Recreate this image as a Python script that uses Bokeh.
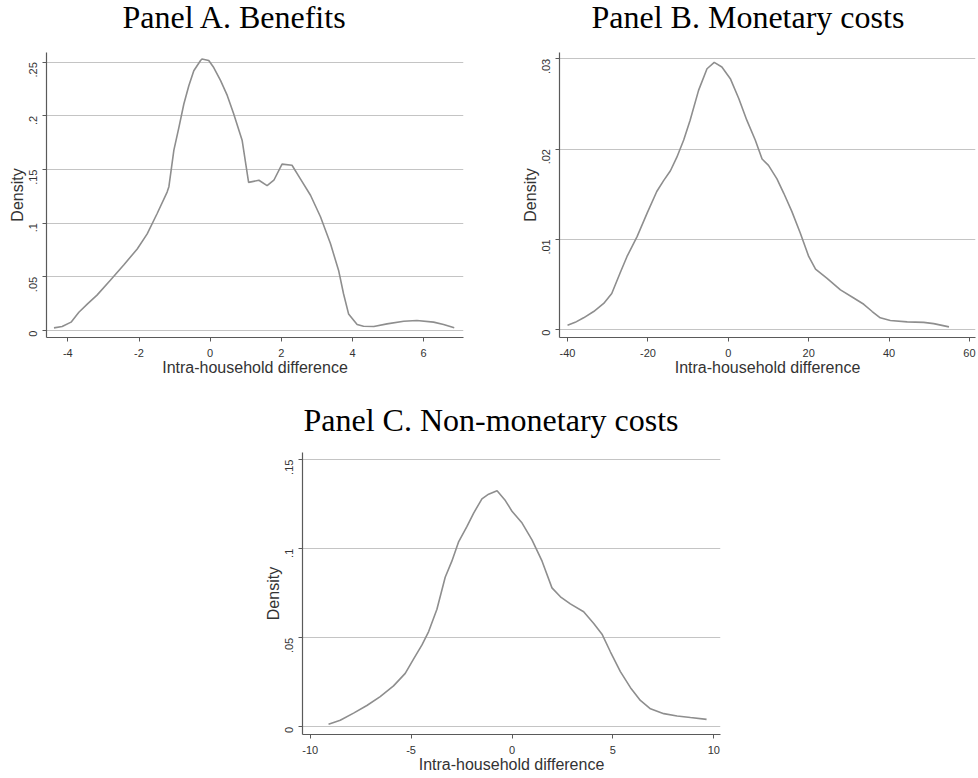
import math
from bokeh.plotting import figure
from bokeh.layouts import row, column
from bokeh.models import FixedTicker, Range1d, Title
from bokeh.embed import file_html
from bokeh.resources import INLINE

# ---------------- data ----------------
# Panel A. Benefits
a_x = [-4.39, -4.16, -3.91, -3.69, -3.44, -3.18, -2.80, -2.43, -2.05, -1.77, -1.49, -1.21, -1.16,
       -1.02, -0.88, -0.74, -0.60, -0.46, -0.27, -0.23, -0.04, 0.10, 0.29, 0.48, 0.66, 0.90, 1.08,
       1.37, 1.60, 1.79, 2.02, 2.30, 2.54, 2.82, 3.10, 3.38, 3.61, 3.75, 3.89, 4.13, 4.31, 4.60,
       4.97, 5.44, 5.81, 6.28, 6.56, 6.86]
a_y = [0.0025, 0.0037, 0.0078, 0.017, 0.025, 0.033, 0.047, 0.061, 0.076, 0.090, 0.109, 0.129, 0.134,
       0.168, 0.189, 0.211, 0.228, 0.242, 0.2516, 0.253, 0.2516, 0.245, 0.233, 0.219, 0.202, 0.177, 0.138,
       0.140, 0.135, 0.140, 0.155, 0.154, 0.141, 0.126, 0.106, 0.081, 0.056, 0.034, 0.0155, 0.0056, 0.004, 0.0037,
       0.0062, 0.0087, 0.0093, 0.0078, 0.0056, 0.0025]
a_xticks = [-4, -2, 0, 2, 4, 6]
a_xlabels = ["-4", "-2", "0", "2", "4", "6"]
a_yticks = [0, 0.05, 0.1, 0.15, 0.2, 0.25]
a_ylabels = ["0", ".05", ".1", ".15", ".2", ".25"]

# Panel B. Monetary costs
b_x = [-40.0, -38.1, -36.0, -33.5, -31.0, -29.0, -26.9, -25.2, -22.7, -20.2, -17.8, -16.1, -14.4,
       -12.8, -11.1, -9.5, -7.4, -5.3, -3.5, -1.6, 0.5, 2.6, 4.6, 6.7, 8.4, 10.0, 12.1, 13.8, 15.8,
       17.9, 20.0, 21.7, 24.5, 27.9, 31.2, 33.7, 35.8, 37.8, 40.3, 44.5, 48.6, 51.1, 54.9]
b_y = [0.00048, 0.0008, 0.0013, 0.0020, 0.0029, 0.0040, 0.0063, 0.0081, 0.0103, 0.0129, 0.0153, 0.0165, 0.0176,
       0.0191, 0.0210, 0.0232, 0.0265, 0.0289, 0.0296, 0.0291, 0.0278, 0.0256, 0.0232, 0.0210, 0.0189, 0.0182,
       0.0167, 0.0151, 0.0131, 0.0107, 0.0081, 0.0067, 0.0057, 0.0044, 0.0035, 0.0028, 0.0020, 0.0013, 0.0010,
       0.00085, 0.0008, 0.00066, 0.0003]
b_xticks = [-40, -20, 0, 20, 40, 60]
b_xlabels = ["-40", "-20", "0", "20", "40", "60"]
b_yticks = [0, 0.01, 0.02, 0.03]
b_ylabels = ["0", ".01", ".02", ".03"]

# Panel C. Non-monetary costs
c_x = [-9.09, -8.51, -7.85, -7.19, -6.53, -5.87, -5.29, -4.88, -4.46, -4.13, -3.72, -3.31, -2.98,
       -2.64, -2.23, -1.90, -1.49, -1.16, -0.74, -0.33, 0.0, 0.50, 0.99, 1.49, 1.98, 2.40, 2.89, 3.55,
       4.05, 4.46, 4.88, 5.37, 5.87, 6.36, 6.86, 7.52, 8.18, 8.84, 9.64]
c_y = [0.0015, 0.0037, 0.0077, 0.012, 0.017, 0.023, 0.030, 0.038, 0.046, 0.0535, 0.066, 0.084, 0.093,
       0.104, 0.1125, 0.120, 0.128, 0.1306, 0.1325, 0.127, 0.121, 0.1144, 0.105, 0.093, 0.078, 0.073, 0.069,
       0.0646, 0.058, 0.052, 0.042, 0.031, 0.022, 0.0148, 0.0101, 0.0074, 0.0061, 0.0052, 0.0042]
c_xticks = [-10, -5, 0, 5, 10]
c_xlabels = ["-10", "-5", "0", "5", "10"]
c_yticks = [0, 0.05, 0.1, 0.15]
c_ylabels = ["0", ".05", ".1", ".15"]

titles = ["Panel A. Benefits", "Panel B. Monetary costs", "Panel C. Non-monetary costs"]
x_label = "Intra-household difference"
y_label = "Density"

LINE = "#8e8e8e"
GRID = "#c4c4c4"
AXIS = "#5a5a5a"
TEXT = "#333333"


def make_panel(title, xs, ys, xticks, xlabels, yticks, ylabels, xr, yr, width, height,
               bl, br, bt, bb, title_offset, gap, title_standoff):
    p = figure(width=width, height=height, output_backend="svg", toolbar_location=None,
               x_range=Range1d(*xr), y_range=Range1d(*yr),
               min_border_left=bl, min_border_right=br, min_border_top=bt, min_border_bottom=bb)
    p.outline_line_color = None
    p.background_fill_color = "white"
    p.border_fill_color = "white"

    # spacer between the frame and the panel title, then the title itself
    p.add_layout(Title(text=" ", text_font_size="1px", standoff=gap), "above")
    p.add_layout(Title(text=title, text_font="Liberation Serif", text_font_size="32px",
                       text_font_style="normal", text_color="black", align="left",
                       offset=title_offset, standoff=title_standoff), "above")

    p.xgrid.visible = False
    p.ygrid.ticker = FixedTicker(ticks=yticks)
    p.ygrid.grid_line_color = GRID
    p.ygrid.grid_line_width = 1.2

    p.line(xs, ys, line_color=LINE, line_width=1.6)

    for ax in (p.xaxis[0], p.yaxis[0]):
        ax.axis_line_color = AXIS
        ax.axis_line_width = 1.2
        ax.major_tick_line_color = AXIS
        ax.major_tick_out = 4
        ax.major_tick_in = 0
        ax.minor_tick_line_color = None
        ax.major_label_text_font = "Liberation Sans"
        ax.major_label_text_font_size = "11px"
        ax.major_label_text_color = TEXT
        ax.axis_label_text_font = "Liberation Sans"
        ax.axis_label_text_font_size = "16px"
        ax.axis_label_text_font_style = "normal"
        ax.axis_label_text_color = TEXT

    xa = p.xaxis[0]
    xa.ticker = FixedTicker(ticks=xticks)
    xa.major_label_overrides = {t: l for t, l in zip(xticks, xlabels)}
    xa.axis_label = x_label
    xa.major_label_standoff = 7
    xa.axis_label_standoff = -1

    ya = p.yaxis[0]
    ya.ticker = FixedTicker(ticks=yticks)
    ya.major_label_overrides = {t: l for t, l in zip(yticks, ylabels)}
    ya.major_label_orientation = math.pi / 2
    ya.major_label_standoff = 9
    ya.axis_label = y_label
    ya.axis_label_standoff = -3
    return p


pA = make_panel(titles[0], a_x, a_y, a_xticks, a_xlabels, a_yticks, a_ylabels,
                (-4.6, 7.12), (-0.0065, 0.259), 480, 378, 46, 17, 52, 41, 76, 19, -8)
pB = make_panel(titles[1], b_x, b_y, b_xticks, b_xlabels, b_yticks, b_ylabels,
                (-42.0, 61.5), (-0.00088, 0.0307), 496, 378, 79, 1, 52, 40, 32, 19, -8)
pC = make_panel(titles[2], c_x, c_y, c_xticks, c_xlabels, c_yticks, c_ylabels,
                (-10.38, 10.33), (-0.0043, 0.154), 976, 397, 302, 256, 74, 41, 1, 12, 0)

layout = column(row(pA, pB), pC)
open("out.html", "w").write(file_html(layout, INLINE))
